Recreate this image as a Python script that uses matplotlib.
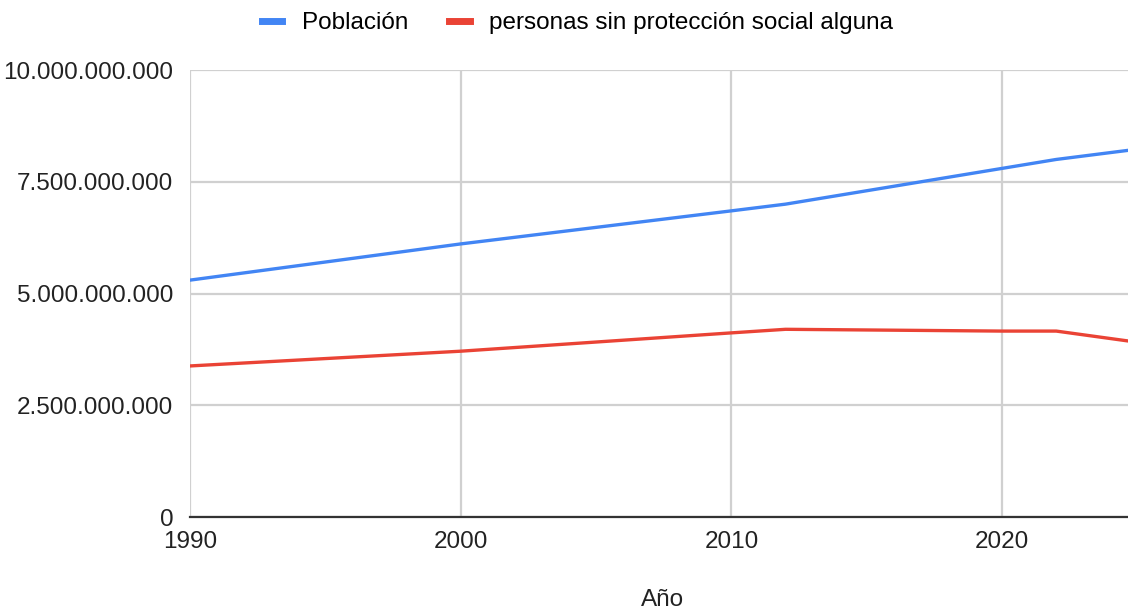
import matplotlib.pyplot as plt
from matplotlib.ticker import FuncFormatter

plt.rcParams['font.family'] = ['Liberation Sans', 'DejaVu Sans']

# data
years = [1990, 2000, 2010, 2012, 2020, 2022, 2025]
poblacion = [5.30e9, 6.11e9, 6.85e9, 7.00e9, 7.80e9, 8.00e9, 8.23e9]
sin_proteccion = [3.38e9, 3.71e9, 4.12e9, 4.20e9, 4.16e9, 4.16e9, 3.91e9]
y_ticks = [0, 2.5e9, 5e9, 7.5e9, 10e9]
x_ticks = [1990, 2000, 2010, 2020]

fig = plt.figure(figsize=(11.28, 6.15), dpi=100)
ax = fig.add_axes([0.1684, 0.1593, 0.8316, 0.7268])

ax.plot(years, poblacion, color='#4285F4', lw=2.4, label='Población')
ax.plot(years, sin_proteccion, color='#EA4335', lw=2.4, label='personas sin protección social alguna')

ax.set_xlim(1990, 2024.65)
ax.set_ylim(0, 10e9)
ax.set_xticks(x_ticks)
ax.set_yticks(y_ticks)
ax.yaxis.set_major_formatter(FuncFormatter(lambda v, p: f"{int(v):,}".replace(',', '.')))

ax.grid(True, color='#d0d0d0', lw=1.6)
ax.set_axisbelow(True)
for s in ['top', 'right', 'left']:
    ax.spines[s].set_visible(False)
ax.spines['bottom'].set_color('#333333')
ax.spines['bottom'].set_linewidth(1.6)
ax.tick_params(length=0, labelsize=17.5, colors='#222222')
ax.tick_params(axis='x', pad=10)
ax.tick_params(axis='y', pad=12)

# x axis title
fig.text(663 / 1128, 1 - 600 / 615, 'Año', ha='center', va='center', fontsize=17.5, color='#222222')

leg = fig.legend(loc='upper center', bbox_to_anchor=(0.512, 1.016), ncol=2, frameon=False,
                 fontsize=17.5, handlelength=0.85, handletextpad=0.8, columnspacing=1.7)
for h in leg.get_lines():
    h.set_linewidth(5)

fig.savefig('out.png', dpi=100)
